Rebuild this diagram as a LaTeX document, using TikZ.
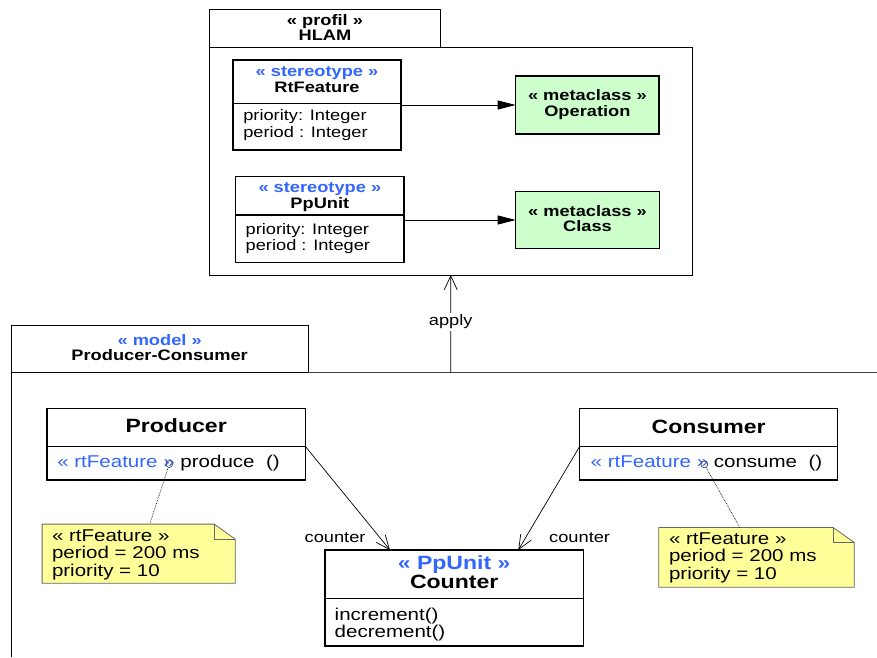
\documentclass[tikz,border=0pt]{standalone}
\usepackage{fontspec}
\setmainfont[FakeStretch=1.2]{Liberation Sans}
\usetikzlibrary{arrows.meta}
\definecolor{stblue}{RGB}{51,102,255}
\definecolor{metagreen}{RGB}{204,255,204}
\definecolor{noteyellow}{RGB}{255,255,153}
\newcommand\szA{\fontsize{15.2}{16}\selectfont}
\newcommand\szB{\fontsize{17.1}{17.5}\selectfont}
\newcommand\szC{\fontsize{19.2}{20}\selectfont}
\begin{document}
\begin{tikzpicture}[x=1pt,y=-1pt,
 box/.style={draw, line width=1.1pt, inner sep=0, outer sep=0, fill=white},
 pkg/.style={draw, line width=0.9pt, inner sep=0, outer sep=0},
 meta/.style={box, fill=metagreen},
 txt/.style={inner sep=0, outer sep=0, anchor=base},
 txtl/.style={inner sep=0, outer sep=0, anchor=base west},
 ext/.style={line width=0.8pt, -{Triangle[length=18pt,width=9pt]}},
 assoc/.style={line width=0.7pt, -{Straight Barb[length=14pt,width=12pt]}},
 notebox/.style={draw=black!60, line width=0.8pt, fill=noteyellow},
 anchorline/.style={densely dotted, line width=0.7pt},
 port/.style={circle, draw=black!80, line width=0.6pt, inner sep=0, minimum size=7pt},
 fA/.style={font=\szA}, fAb/.style={font=\szA\bfseries},
 fB/.style={font=\szB}, fCb/.style={font=\szC\bfseries}
]
\useasboundingbox (0,0) rectangle (877,657);
\fill[white] (0,0) rectangle (877,657);

% ---------- HLAM profile ----------
\node[pkg, minimum width=231.7pt, minimum height=38pt] (hlamTab) at (325,28.3) {};
\node[pkg, minimum width=483.5pt, minimum height=227.7pt] (hlamB) at (450.75,161.15) {};
\node[txt, fAb] (hlamS) at (325,25) {« profil »};
\node[txt, fAb] (hlamN) at (325,40.7) {HLAM};

% RtFeature stereotype
\node[box, minimum width=168pt, minimum height=43.3pt] (rtH) at (317,81.65) {};
\node[box, minimum width=168pt, minimum height=46.7pt] (rtB) at (317,126.65) {};
\node[txt, fAb, text=stblue] (rtS) at (317,76.7) {« stereotype »};
\node[txt, fAb] (rtN) at (317,92.7) {RtFeature};
\node[txtl, fA] (rtA1) at (243.3,120.7) {priority: Integer};
\node[txtl, fA] (rtA2) at (243.3,137.3) {period : Integer};

% Operation metaclass
\node[meta, minimum width=143.3pt, minimum height=58pt] (op) at (587.35,105) {};
\node[txt, fAb] (opS) at (587.35,100.7) {« metaclass »};
\node[txt, fAb] (opN) at (587.35,116.7) {Operation};

% PpUnit stereotype
\node[box, minimum width=168.3pt, minimum height=38.3pt] (ppH) at (319.85,195.85) {};
\node[box, minimum width=168.3pt, minimum height=47.7pt] (ppB) at (319.85,238.85) {};
\node[txt, fAb, text=stblue] (ppS) at (319.85,192.3) {« stereotype »};
\node[txt, fAb] (ppN) at (319.85,208.3) {PpUnit};
\node[txtl, fA] (ppA1) at (245.7,234) {priority: Integer};
\node[txtl, fA] (ppA2) at (245.7,250) {period : Integer};

% Class metaclass
\node[meta, minimum width=143.6pt, minimum height=56.6pt] (cl) at (587.5,220) {};
\node[txt, fAb] (clS) at (587.5,216) {« metaclass »};
\node[txt, fAb] (clN) at (587.5,231.7) {Class};

\draw[ext] (rtB.east |- op.west) -- (op.west);
\draw[ext] (ppB.east |- cl.west) -- (cl.west);

% ---------- Producer-Consumer model ----------
\node[pkg, minimum width=297.3pt, minimum height=47.7pt] (mTab) at (159.65,348.85) {};
\node[txt, fAb, text=stblue] (mS) at (159.65,345) {« model »};
\node[txt, fAb] (mN) at (159.65,360.7) {Producer-Consumer};
\coordinate (mTL) at (11,372.7);
\coordinate (mTR) at (877,372.7);
\coordinate (mBL) at (11,657);
\draw[line width=0.9pt, black!75] (mTab.south east) -- (mTR);
\draw[line width=0.9pt] (mTL) -- (mBL);

% apply
\coordinate (applyS) at (450.7,372.7);
\draw[line width=0.7pt, -{Straight Barb[length=14pt,width=13pt]}] (applyS) -- (hlamB.south)
  node[pos=0.52, fill=white, inner sep=2pt, fA] (applyL) {apply};

% Producer
\node[box, minimum width=258.3pt, minimum height=37.6pt] (prH) at (176.15,427.5) {};
\node[box, minimum width=258.3pt, minimum height=33.7pt] (prB) at (176.15,463.15) {};
\node[txt, fCb] (prN) at (176.15,432.7) {Producer};
\node[txtl, fB] (prO) at (57.3,467.3) {\textcolor{stblue}{« rtFeature »} produce\ \ ()};
\node[port] (cL) at (169.3,464) {};

% Consumer
\node[box, minimum width=258pt, minimum height=37.6pt] (coH) at (708.7,427.5) {};
\node[box, minimum width=258pt, minimum height=33.7pt] (coB) at (708.7,463.15) {};
\node[txt, fCb] (coN) at (708.7,433.3) {Consumer};
\node[txtl, fB] (coO) at (590.7,467.3) {\textcolor{stblue}{« rtFeature »} consume\ \ ()};
\node[port] (cR) at (704.3,464.3) {};

% Counter
\node[box, minimum width=258.3pt, minimum height=48.3pt] (ctH) at (454.15,574.15) {};
\node[box, minimum width=258.3pt, minimum height=47.7pt] (ctB) at (454.15,622.15) {};
\node[txt, fCb, text=stblue] (ctS) at (454.15,569) {« PpUnit »};
\node[txt, fCb] (ctN) at (454.15,588) {Counter};
\node[txtl, fB] (ctM1) at (334.7,620) {increment()};
\node[txtl, fB] (ctM2) at (334.7,637) {decrement()};

\coordinate (ctL) at ([xshift=65pt]ctH.north west);
\coordinate (ctR) at ([xshift=-65pt]ctH.north east);
\draw[assoc] (prH.south east) -- (ctL);
\draw[assoc] (coH.south west) -- (ctR);
\node[inner sep=0, anchor=base east, fA] (lblL) at (365.7,542.7) {counter};
\node[inner sep=0, anchor=base west, fA] (lblR) at (549,542.7) {counter};

% Notes
\node[inner sep=0, minimum width=192.7pt, minimum height=58.7pt] (noteL) at (138.65,553.65) {};
\draw[notebox] (noteL.north west) -- ([xshift=-21pt]noteL.north east) -- ([yshift=-15pt]noteL.north east) -- (noteL.south east) -- (noteL.south west) -- cycle;
\draw[draw=black!60, line width=0.8pt] ([xshift=-21pt]noteL.north east) -- ([xshift=-21pt,yshift=-15pt]noteL.north east) -- ([yshift=-15pt]noteL.north east);
\node[txtl, fB] (nL1) at (52,541) {« rtFeature »};
\node[txtl, fB] (nL2) at (52,558.5) {period = 200 ms};
\node[txtl, fB] (nL3) at (52,576) {priority = 10};

\node[inner sep=0, minimum width=195pt, minimum height=59.3pt] (noteR) at (756.5,557.35) {};
\draw[notebox] (noteR.north west) -- ([xshift=-21pt]noteR.north east) -- ([yshift=-15pt]noteR.north east) -- (noteR.south east) -- (noteR.south west) -- cycle;
\draw[draw=black!60, line width=0.8pt] ([xshift=-21pt]noteR.north east) -- ([xshift=-21pt,yshift=-15pt]noteR.north east) -- ([yshift=-15pt]noteR.north east);
\node[txtl, fB] (nR1) at (669,544) {« rtFeature »};
\node[txtl, fB] (nR2) at (669,561.5) {period = 200 ms};
\node[txtl, fB] (nR3) at (669,579) {priority = 10};

\coordinate (nLa) at ([xshift=107.7pt]noteL.north west);
\coordinate (nRa) at ([xshift=81pt]noteR.north west);
\draw[anchorline] (cL) -- (nLa);
\draw[anchorline] (cR) -- (nRa);
\end{tikzpicture}
\end{document}
